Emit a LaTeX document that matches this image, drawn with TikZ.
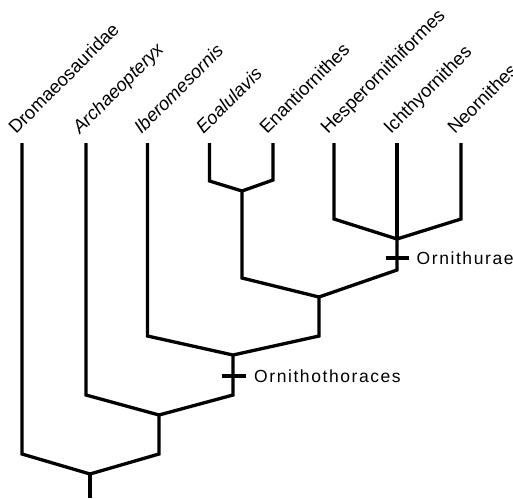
\documentclass[tikz,border=0pt]{standalone}
\usepackage{fontspec}
\setmainfont{Liberation Sans}
\newfontfamily\cladefont[LetterSpace=9]{Liberation Sans}
\begin{document}
\begin{tikzpicture}[x=1pt,y=-1pt,
  branch/.style={line width=3.3pt, line join=miter, line cap=butt},
  taxon/.style={rotate=45, anchor=base west, inner sep=0pt, font=\fontsize{18.5}{18.5}\selectfont},
  clade/.style={anchor=west, inner sep=0pt, font=\cladefont\fontsize{17.5}{17.5}\selectfont},
  tick/.style={line width=3.3pt}]
\useasboundingbox (0,0) rectangle (513,498);
% tips
\coordinate (drom) at (22,143);
\coordinate (arch) at (86,143);
\coordinate (iber) at (147.5,143);
\coordinate (eoal) at (209.5,143);
\coordinate (enan) at (273,143);
\coordinate (hesp) at (334,143);
\coordinate (ichth) at (397,143);
\coordinate (neor) at (461,143);
% labels
\node[taxon] (lDrom) at (16,135) {Dromaeosauridae};
\node[taxon] (lArch) at (80,135) {\itshape Archaeopteryx};
\node[taxon] (lIber) at (141.5,135) {\itshape Iberomesornis};
\node[taxon] (lEoal) at (203.5,135) {\itshape Eoalulavis};
\node[taxon] (lEnan) at (267,135) {Enantiornithes};
\node[taxon] (lHesp) at (328,135) {Hesperornithiformes};
\node[taxon] (lIchth) at (391,135) {Ichthyornithes};
\node[taxon] (lNeor) at (455,135) {Neornithes};
% corners and junctions
\coordinate (eoalC) at (209.5,181);
\coordinate (enanC) at (273,180);
\coordinate (j1) at (242,191);
\coordinate (hespC) at (334,219);
\coordinate (neorC) at (461,219);
\coordinate (j2) at (397,239);
\coordinate (j3L) at (242,278);
\coordinate (j3R) at (397,270);
\coordinate (j3) at (319,297);
\coordinate (j4L) at (147.5,336);
\coordinate (j4R) at (319,336);
\coordinate (j4) at (233,355);
\coordinate (j5L) at (86,395);
\coordinate (j5R) at (233,395);
\coordinate (j5) at (159,415);
\coordinate (j6L) at (22,454);
\coordinate (j6R) at (159,454);
\coordinate (j6) at (90,474);
\coordinate (root) at (90,498);
% branches
\draw[branch] (eoal) -- (eoalC) -- (j1) -- (enanC) -- (enan);
\draw[branch] (hesp) -- (hespC) -- (j2) -- (neorC) -- (neor);
\draw[branch] (ichth) -- (j2);
\draw[branch] (j1) -- (j3L) -- (j3) -- (j3R) -- (j2);
\draw[branch] (iber) -- (j4L) -- (j4) -- (j4R) -- (j3);
\draw[branch] (arch) -- (j5L) -- (j5) -- (j5R) -- (j4);
\draw[branch] (drom) -- (j6L) -- (j6) -- (j6R) -- (j5);
\draw[branch] (j6) -- (root);
% clade ticks
\coordinate (tkA) at (385.5,258);
\coordinate (tkB) at (409,258);
\draw[tick] (tkA) -- (tkB);
\node[clade] (lOrnu) at (416.5,258) {Ornithurae};
\coordinate (tkC) at (221.5,376);
\coordinate (tkD) at (245.5,376);
\draw[tick] (tkC) -- (tkD);
\node[clade] (lOrnt) at (254,376) {Ornithothoraces};
\end{tikzpicture}
\end{document}
